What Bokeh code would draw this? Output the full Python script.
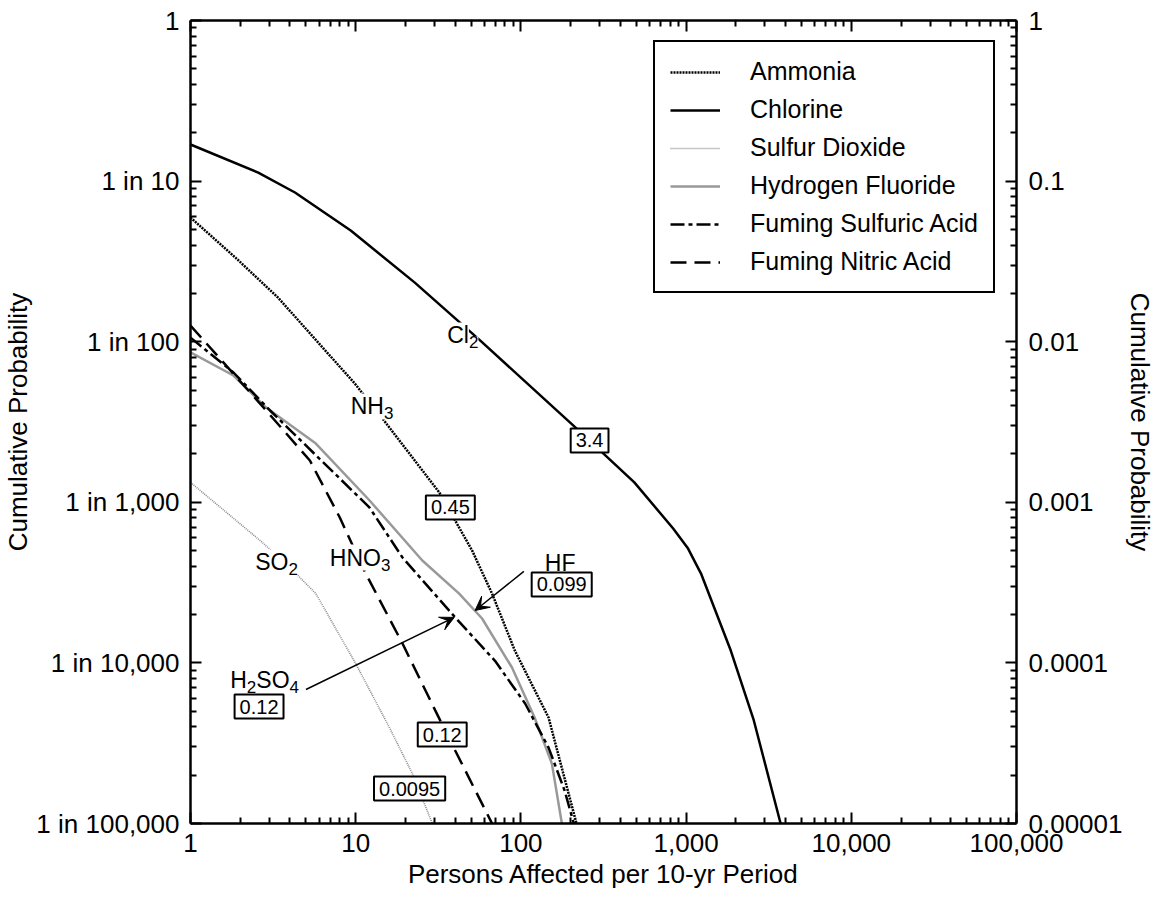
from bokeh.plotting import figure
from bokeh.models import (LogAxis, FixedTicker, Legend, LegendItem, Label,
                          Arrow, VeeHead, Range1d)
from bokeh.embed import file_html
from bokeh.resources import INLINE

FONT = "Liberation Sans"

# ---------------- data ----------------
x_ticks = [1, 10, 100, 1000, 10000, 100000]
x_tick_labels = ["1", "10", "100", "1,000", "10,000", "100,000"]
y_ticks = [1, 0.1, 0.01, 0.001, 0.0001, 0.00001]
y_left_labels = ["1", "1 in 10", "1 in 100", "1 in 1,000", "1 in 10,000", "1 in 100,000"]
y_right_labels = ["1", "0.1", "0.01", "0.001", "0.0001", "0.00001"]

ammonia_x = [1, 1.87, 3.39, 9.86, 14.5, 32.1, 50.7, 66.9, 92, 147, 217]
ammonia_y = [0.0593, 0.0334, 0.0188, 0.0055, 0.00333, 0.00115, 5.0e-4, 2.7e-4, 1.19e-4, 4.57e-5, 1e-5]

chlorine_x = [1, 2.57, 4.29, 9.33, 22.7, 56.6, 208, 486, 835, 1028, 1231, 1866, 2570, 3733]
chlorine_y = [0.169, 0.113, 0.0849, 0.0492, 0.0234, 0.0102, 0.0030, 0.00133, 6.87e-4, 5.15e-4,
              3.6e-4, 1.19e-4, 4.38e-5, 1e-5]

so2_x = [1, 2.64, 4.0, 5.74, 10, 16.0, 22.0, 29.1]
so2_y = [0.00133, 5.78e-4, 3.93e-4, 2.7e-4, 9.9e-5, 3.96e-5, 2.05e-5, 1e-5]

hf_x = [1, 1.82, 2.87, 5.74, 12.1, 25.3, 42.3, 58.2, 88.3, 121, 154, 177]
hf_y = [0.00857, 0.00616, 0.00389, 0.00232, 0.00103, 4.34e-4, 2.7e-4, 1.89e-4, 9.36e-5,
        4.57e-5, 2.36e-5, 1e-5]

h2so4_x = [1, 1.82, 3.03, 12.1, 19.2, 40.0, 69.7, 106, 147, 184, 209]
h2so4_y = [0.0106, 0.00643, 0.00373, 9.3e-4, 4.53e-4, 1.92e-4, 1.03e-4, 5.59e-5, 2.97e-5,
           1.6e-5, 1e-5]

hno3_x = [1, 2.87, 5.28, 8.01, 11.5, 19.2, 30.3, 40.0, 66.9]
hno3_y = [0.0126, 0.00373, 0.00182, 8.04e-4, 3.6e-4, 1.32e-4, 5.06e-5, 2.85e-5, 1e-5]

series_names = ["Ammonia", "Chlorine", "Sulfur Dioxide", "Hydrogen Fluoride",
                "Fuming Sulfuric Acid", "Fuming Nitric Acid"]

# boxed values
box_texts = ["3.4", "0.45", "0.099", "0.12", "0.12", "0.0095"]
box_x = [260.5, 37.4, 176.6, 2.60, 33.4, 21.2]
box_y = [0.002427, 9.29e-4, 3.08e-4, 5.35e-5, 3.58e-5, 1.65e-5]

# ---------------- figure ----------------
p = figure(width=1158, height=905, x_axis_type="log", y_axis_type="log",
           x_range=Range1d(1, 1e5), y_range=Range1d(1e-5, 1),
           output_backend="svg", toolbar_location=None,
           min_border_left=187, min_border_right=141,
           min_border_top=20, min_border_bottom=82)
p.xgrid.visible = False
p.ygrid.visible = False
p.outline_line_color = None
p.background_fill_color = "white"
p.border_fill_color = "white"

x_minor = [m * 10 ** k for k in range(0, 5) for m in range(2, 10)]
y_minor = [m * 10.0 ** k for k in range(-5, 0) for m in range(2, 10)]


def style_axis(ax, ticks, minor, overrides, show_labels=True):
    ax.ticker = FixedTicker(ticks=ticks, minor_ticks=minor)
    ax.axis_line_width = 2.5
    ax.axis_line_color = "black"
    ax.major_tick_in = 11
    ax.major_tick_out = 0
    ax.minor_tick_in = 6
    ax.minor_tick_out = 0
    ax.major_tick_line_width = 2
    ax.minor_tick_line_width = 2
    ax.major_tick_line_color = "black"
    ax.minor_tick_line_color = "black"
    ax.major_label_text_font = FONT
    ax.major_label_text_color = "black"
    ax.axis_label_text_font = FONT
    ax.axis_label_text_font_size = "26px"
    ax.axis_label_text_font_style = "normal"
    ax.axis_label_text_color = "black"
    ax.major_label_text_font_size = "26px"
    if show_labels:
        ax.major_label_overrides = overrides
    else:
        ax.major_label_text_font_size = "2px"
        ax.major_label_text_color = None
        ax.major_label_standoff = 0


bottom = p.xaxis[0]
style_axis(bottom, x_ticks, x_minor, dict(zip(x_ticks, x_tick_labels)))
bottom.axis_label = "Persons Affected per 10-yr Period"
bottom.major_label_standoff = 10
bottom.axis_label_standoff = 4

left = p.yaxis[0]
style_axis(left, y_ticks, y_minor, dict(zip(y_ticks, y_left_labels)))
left.axis_label = "Cumulative Probability"
left.major_label_standoff = 11
left.axis_label_standoff = 0

top = LogAxis()
style_axis(top, x_ticks, x_minor, {}, show_labels=False)
p.add_layout(top, "above")

right = LogAxis()
style_axis(right, y_ticks, y_minor, dict(zip(y_ticks, y_right_labels)))
right.axis_label = "Cumulative Probability"
right.major_label_standoff = 12
right.axis_label_standoff = 0
p.add_layout(right, "right")

# ---------------- curves ----------------
r_nh3 = p.line(ammonia_x, ammonia_y, line_color="black", line_width=2.5, line_dash="2 1")
r_cl = p.line(chlorine_x, chlorine_y, line_color="black", line_width=2.5)
r_so2 = p.line(so2_x, so2_y, line_color="#8c8c8c", line_width=1.6, line_dash="1 1")
r_hf = p.line(hf_x, hf_y, line_color="#999999", line_width=2.5)
r_h2so4 = p.line(h2so4_x, h2so4_y, line_color="black", line_width=2.5, line_dash="14 4 4 4")
r_hno3 = p.line(hno3_x, hno3_y, line_color="black", line_width=2.5, line_dash="16 8")

renderers = [r_nh3, r_cl, r_so2, r_hf, r_h2so4, r_hno3]
legend = Legend(items=[LegendItem(label=n, renderers=[r]) for n, r in zip(series_names, renderers)],
                location=(463, 530), border_line_color="black", border_line_width=2,
                border_line_alpha=1.0,
                label_text_font=FONT, label_text_font_size="25px", label_text_color="black",
                glyph_width=50, glyph_height=24, label_height=24, label_standoff=30,
                spacing=9, padding=15, margin=0, background_fill_color="white",
                background_fill_alpha=1)
p.add_layout(legend)

# ---------------- chemical labels ----------------
def chem(parts, x, y):
    """parts: list of (text, is_sub); placed from left baseline."""
    off = 0
    for txt, sub in parts:
        size = 17 if sub else 23
        lab = Label(x=x, y=y, x_offset=off, y_offset=-7 if sub else 0, text=txt,
                    text_font=FONT, text_font_size=f"{size}px", text_color="black",
                    text_align="left", text_baseline="alphabetic",
                    background_fill_color="white")
        p.add_layout(lab)
        w = {"Cl": 21.7, "NH": 33.2, "SO": 33.2, "HNO": 51.1, "HF": 30.6, "H": 16.6}.get(txt, 9.5)
        off += w


chem([("Cl", False), ("2", True)], 35.8, 0.01093)
chem([("NH", False), ("3", True)], 9.33, 0.003952)
chem([("SO", False), ("2", True)], 2.464, 4.22e-4)
chem([("HNO", False), ("3", True)], 6.97, 4.53e-4)
chem([("HF", False)], 139.6, 4.16e-4)
chem([("H", False), ("2", True), ("SO", False), ("4", True)], 1.74, 7.77e-5)

for t, bx, by in zip(box_texts, box_x, box_y):
    p.add_layout(Label(x=bx, y=by, text=t, text_font=FONT, text_font_size="20px",
                       text_color="black", text_align="center", text_baseline="middle",
                       border_line_color="black", border_line_width=2,
                       background_fill_color="white", padding=5))

# ---------------- arrows ----------------
p.add_layout(Arrow(end=VeeHead(size=14, fill_color="black", line_color="black", line_width=1),
                   x_start=104.2, y_start=3.71e-4, x_end=52.8, y_end=2.12e-4,
                   line_width=1.5, line_color="black"))
p.add_layout(Arrow(end=VeeHead(size=14, fill_color="black", line_color="black", line_width=1),
                   x_start=5.0, y_start=6.83e-5, x_end=39.5, y_end=1.92e-4,
                   line_width=1.5, line_color="black"))

open("out.html", "w").write(file_html(p, INLINE))
